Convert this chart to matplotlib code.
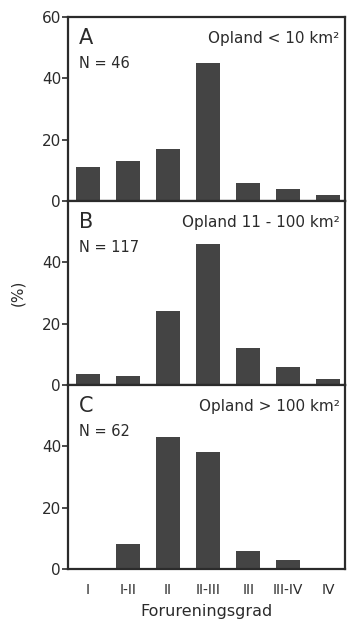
import matplotlib
matplotlib.use("Agg")
import matplotlib.pyplot as plt
import numpy as np

plt.rcParams['font.family'] = ['DejaVu Sans']

grades = ["I", "I-II", "II", "II-III", "III", "III-IV", "IV"]
pct_a = [11, 13, 17, 45, 6, 4, 2]
pct_b = [3.5, 3, 24, 46, 12, 6, 2]
pct_c = [0, 8, 43, 38, 6, 3, 0]

panel_letters = ["A", "B", "C"]
panel_n = ["N = 46", "N = 117", "N = 62"]
panel_area = ["Opland < 10 km²", "Opland 11 - 100 km²", "Opland > 100 km²"]

ink = "#2b2b2b"
bar_color = "#444444"

fig = plt.figure(figsize=(3.49, 6.26), dpi=100)
left, width = 68 / 349, 277 / 349
h = 184 / 626
bottoms = [1 - 201 / 626, 1 - 385 / 626, 1 - 569 / 626]

x = np.arange(len(grades))
for i, vals in enumerate([pct_a, pct_b, pct_c]):
    ax = fig.add_axes([left, bottoms[i], width, h])
    ax.bar(x, vals, width=0.6, color=bar_color, zorder=2)
    ax.set_xlim(-0.5, 6.42)
    ax.set_ylim(0, 60)
    ax.set_yticks([0, 20, 40, 60] if i == 0 else [0, 20, 40])
    ax.tick_params(axis='y', direction='out', length=4, width=1.2,
                   labelsize=11, colors=ink, pad=1)
    for sp in ax.spines.values():
        sp.set_linewidth(1.6)
        sp.set_color(ink)
    ax.text(0.04, 0.885, panel_letters[i], transform=ax.transAxes,
            fontsize=15, color=ink, va='center', ha='left')
    ax.text(0.04, 0.75, panel_n[i], transform=ax.transAxes,
            fontsize=10.5, color=ink, va='center', ha='left')
    ax.text(0.98, 0.885, panel_area[i], transform=ax.transAxes,
            fontsize=11, color=ink, va='center', ha='right')
    if i < 2:
        ax.set_xticks([])
    else:
        ax.set_xticks(x)
        ax.set_xticklabels(grades)
        ax.tick_params(axis='x', length=0, labelsize=10, colors=ink, pad=10)
        ax.set_xlabel("Forureningsgrad", fontsize=11.5, color=ink, labelpad=5)
    if i == 1:
        ax.set_ylabel("(%)", fontsize=11, color=ink, labelpad=12)

fig.savefig("out.png", dpi=100)
